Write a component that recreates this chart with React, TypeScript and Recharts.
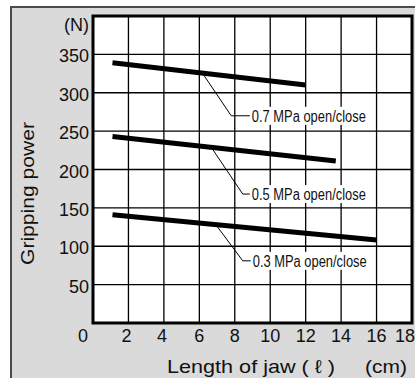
import { LineChart, Line, XAxis, YAxis, CartesianGrid, ReferenceArea, LabelList } from 'recharts';

const FONT = '"Liberation Sans", Arial, Helvetica, sans-serif';

const xTicks = [0, 2, 4, 6, 8, 10, 12, 14, 16, 18];
const yTicks = [50, 100, 150, 200, 250, 300, 350, 400];

// jaw length (cm) vs gripping power (N), one pair per supply pressure
const len07 = [1.1, 12];
const pow07 = [339, 310];
const len05 = [1.1, 13.7];
const pow05 = [243, 211];
const len03 = [1.1, 16];
const pow03 = [141, 108];

const labelTexts = ['0.7 MPa open/close', '0.5 MPa open/close', '0.3 MPa open/close'];

// leader lines: point on curve -> elbow -> label start (data units)
const leadX07 = [6.25, 7.8, 8.85];
const leadY07 = [323, 270, 270];
const leadX05 = [6.7, 8.45, 8.85];
const leadY05 = [228, 168, 168];
const leadX03 = [7.0, 8.45, 8.9];
const leadY03 = [126, 81, 81];

const pts = (xs: number[], ys: number[]) => xs.map((x, i) => ({ x, y: ys[i] }));

const series = [pts(len07, pow07), pts(len05, pow05), pts(len03, pow03)];
const leaders = [pts(leadX07, leadY07), pts(leadX05, leadY05), pts(leadX03, leadY03)];

const XTick = ({ x, y, payload }: any) => {
  const v = payload.value;
  const dx = v === 0 ? -10 : v === 18 ? -7 : v === 2 || v === 4 ? -2 : 0;
  return (
    <text x={x + dx} y={y} dy="0.71em" textAnchor="middle" fontSize={18} fill="#111" fontFamily={FONT}>
      {v}
    </text>
  );
};

const YTick = ({ x, y, payload }: any) => {
  const v = payload.value;
  return (
    <text x={x} y={y} dy={v === 400 ? 15 : 8} textAnchor="end" fontSize={18} fill="#111" fontFamily={FONT}>
      {v === 400 ? '(N)' : v}
    </text>
  );
};

const XTitle = ({ viewBox }: any) => (
  <g fontFamily={FONT} fontSize={19} fill="#111">
    <text x={viewBox.x + 74} y={viewBox.y + 50} textLength={168} lengthAdjust="spacingAndGlyphs">
      Length of jaw ( ℓ )
    </text>
    <text x={viewBox.x + 272} y={viewBox.y + 50} textLength={42} lengthAdjust="spacingAndGlyphs">(cm)</text>
  </g>
);

const YTitle = ({ viewBox }: any) => {
  const cx = viewBox.x + 1;
  const cy = 193.5;
  return (
    <text x={cx} y={cy} transform={`rotate(-90 ${cx} ${cy})`} textAnchor="middle" fontFamily={FONT}
      fontSize={19} fill="#111" textLength={143} lengthAdjust="spacingAndGlyphs">
      Gripping power
    </text>
  );
};

export default function App() {
  return (
    <div style={{ position: 'fixed', left: 0, top: 0, width: 415, height: 378 }}>
      <div
        style={{
          position: 'absolute', left: 10, top: 6, right: 0, bottom: 0,
          background: '#dadada', borderTop: '2px solid #4a4a4a', borderLeft: '2px solid #4a4a4a',
        }}
      />
      <div style={{ position: 'absolute', left: 0, top: 0 }}>
        <LineChart width={415} height={378} margin={{ top: 16, right: 3, bottom: 25, left: 33 }}>
          <CartesianGrid stroke="#000" strokeWidth={1.3} fill="#fff" fillOpacity={1} />
          <XAxis
            type="number" dataKey="x" domain={[0, 18]} ticks={xTicks} interval={0}
            axisLine={false} tickLine={false} tickSize={0} tickMargin={6} height={30}
            tick={<XTick />} label={<XTitle />} allowDataOverflow
          />
          <YAxis
            type="number" dataKey="y" domain={[0, 400]} ticks={yTicks} interval={0}
            axisLine={false} tickLine={false} tickSize={0} tickMargin={4} width={60}
            tick={<YTick />} label={<YTitle />} allowDataOverflow
          />
          <ReferenceArea x1={0} x2={18} y1={0} y2={400} fill="none" stroke="#000" strokeWidth={3} ifOverflow="visible" />
          {series.map((d, i) => (
            <Line key={'s' + i} data={d} dataKey="y" type="linear" stroke="#000" strokeWidth={5}
              dot={false} activeDot={false} isAnimationActive={false} />
          ))}
          {leaders.map((d, i) => (
            <Line key={'l' + i} data={d} dataKey="y" type="linear" stroke="#000" strokeWidth={1}
              dot={false} activeDot={false} isAnimationActive={false}>
              <LabelList
                dataKey="y"
                content={(p: any) =>
                  p.index === 2 ? (
                    <g>
                      <rect x={p.x + 1} y={p.y - 9} width={117} height={18} fill="#fff" />
                      <text x={p.x + 2} y={p.y} dy="0.36em" fontFamily={FONT} fontSize={16} fill="#111"
                        textLength={114} lengthAdjust="spacingAndGlyphs">
                        {labelTexts[i]}
                      </text>
                    </g>
                  ) : null
                }
              />
            </Line>
          ))}
        </LineChart>
      </div>
    </div>
  );
}
